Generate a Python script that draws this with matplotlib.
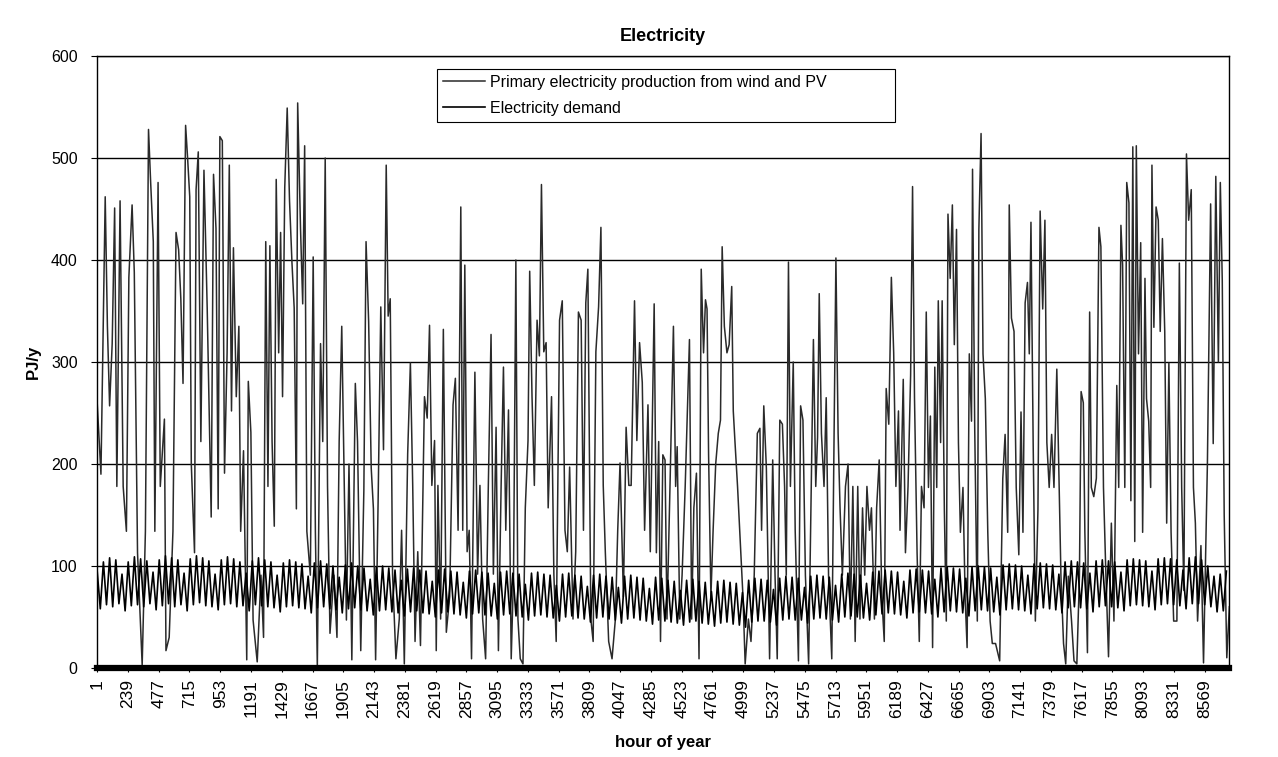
import numpy as np
import matplotlib
matplotlib.use("Agg")
import matplotlib.pyplot as plt

plt.rcParams['font.family'] = ['Liberation Sans', 'DejaVu Sans']

# ---- data (PJ/y) ----
# wind + PV production: (hour of year, value) at the visible peaks / dips
prod_hours = [
    1, 30, 63, 80, 97, 117, 136, 153, 178, 202, 227, 246, 271, 288, 313, 349, 374, 398, 415, 435,
    447, 472, 489, 521, 533, 558, 587, 611, 631, 648, 665, 685, 700, 717, 729, 754, 766, 783, 803, 827,
    852, 883, 901, 920, 937, 950, 969, 986, 1006, 1023, 1040, 1055, 1077, 1097, 1111, 1133, 1158, 1170, 1190, 1207,
    1239, 1268, 1288, 1305, 1322, 1337, 1354, 1371, 1386, 1405, 1420, 1435, 1452, 1471, 1489, 1508, 1525, 1542, 1552, 1574,
    1591, 1606, 1623, 1650, 1672, 1689, 1704, 1729, 1746, 1765, 1783, 1802, 1832, 1856, 1873, 1893, 1910, 1929, 1949, 1971,
    1998, 2015, 2040, 2064, 2081, 2101, 2121, 2138, 2155, 2175,
    2195, 2216, 2237, 2252, 2268, 2286, 2312, 2338, 2356, 2377, 2403, 2424, 2442, 2460, 2481, 2502, 2533, 2554, 2572, 2590,
    2611, 2624, 2637, 2658, 2679, 2702, 2728, 2754, 2772, 2793, 2814, 2829, 2845, 2863, 2879, 2897, 2923, 2944, 2962, 2983,
    3006, 3027, 3048, 3066, 3087, 3105, 3126, 3144, 3162, 3183, 3204, 3222, 3240, 3256, 3274, 3295, 3313, 3334, 3347, 3365,
    3383, 3404, 3422, 3438, 3456, 3474, 3490, 3516, 3534, 3552, 3578, 3599, 3620, 3638, 3656, 3682, 3703, 3724, 3745, 3763,
    3781, 3797, 3820, 3838, 3859, 3880, 3898, 3916, 3932, 3958, 3984, 4010, 4028, 4046, 4072, 4093, 4114, 4132, 4158, 4176,
    4197, 4218, 4236, 4262, 4280,
    4295, 4310, 4327, 4345, 4359, 4377, 4394, 4409, 4434, 4459, 4476, 4488, 4508, 4526, 4550, 4583, 4600, 4617, 4637, 4657,
    4674, 4692, 4707, 4719, 4731, 4749, 4766, 4786, 4806, 4823, 4836, 4853, 4873, 4890, 4910, 4922, 4935, 4955, 4972, 4997,
    5014, 5039, 5059, 5084, 5108, 5128, 5141, 5158, 5178, 5203, 5227, 5245, 5262, 5282, 5302, 5319, 5332, 5349, 5364, 5386,
    5401, 5426, 5443, 5461, 5480, 5505, 5530, 5542, 5560, 5574, 5587, 5604, 5624, 5641, 5659, 5684, 5704, 5716, 5733, 5748,
    5766, 5790, 5810, 5828, 5847, 5865, 5885, 5902, 5922, 5939, 5956, 5976, 5991, 6014, 6031, 6051, 6071, 6090, 6105, 6125,
    6145, 6163, 6180, 6200, 6212, 6237, 6254, 6274, 6294, 6309, 6324, 6344, 6361, 6378, 6398,
    6415, 6432, 6447, 6464, 6481, 6496, 6508, 6526, 6538, 6555, 6570, 6583, 6600, 6617, 6632, 6649, 6664, 6679, 6699, 6716,
    6731, 6748, 6765, 6773, 6790, 6810, 6822, 6839, 6854, 6872, 6891, 6909, 6926, 6951, 6983, 7007, 7025, 7045, 7057, 7074,
    7094, 7111, 7131, 7148, 7163, 7180, 7198, 7212, 7225, 7242, 7259, 7279, 7296, 7316, 7333, 7348, 7366, 7385, 7403, 7425,
    7440, 7457, 7477, 7494, 7514, 7539, 7558, 7580, 7600, 7613, 7630, 7642, 7662, 7679, 7692, 7711, 7731, 7751, 7766, 7786,
    7805, 7825, 7847, 7867, 7889, 7904, 7921, 7934, 7951, 7966, 7983, 7998, 8013, 8028, 8040, 8057, 8074, 8089, 8107, 8119,
    8136, 8151, 8161, 8176, 8193, 8210, 8225, 8242, 8260, 8275, 8292, 8309, 8329, 8354, 8373, 8391, 8408, 8428, 8445, 8465,
    8482, 8497, 8514, 8540, 8560, 8590, 8615, 8635, 8655, 8675, 8690, 8705, 8720, 8740, 8760,
]
prod_values = [
    260, 190, 462, 335, 257, 318, 451, 178, 458, 178, 134, 383, 454, 388, 113, 3, 134, 528, 475, 418,
    134, 476, 178, 244, 17, 30, 134, 427, 410, 362, 279, 532, 501, 462, 200, 113, 469, 506, 222, 488,
    353, 148, 484, 431, 156, 521, 517, 191, 309, 493, 252, 412, 266, 335, 134, 213, 8, 281, 231, 47,
    6, 91, 30, 418, 178, 414, 222, 139, 479, 309, 427, 266, 471, 549, 458, 397, 353, 156, 554, 431,
    357, 512, 134, 91, 403, 134, 1, 318, 222, 500, 178, 34, 91, 30, 222, 335, 200, 47, 200, 8,
    279, 222, 17, 174, 418, 340, 196, 156, 8, 169,
    354, 214, 493, 345, 362, 92, 9, 48, 135, 4, 210, 299, 179, 26, 114, 22, 266, 245, 336, 179,
    223, 17, 179, 48, 332, 35, 70, 258, 284, 135, 452, 135, 395, 114, 135, 9, 290, 92, 179, 48,
    9, 179, 327, 92, 236, 17, 179, 295, 135, 253, 9, 92, 400, 48, 9, 4, 157, 223, 389, 266,
    179, 341, 306, 474, 310, 319, 157, 266, 92, 26, 341, 360, 135, 114, 197, 48, 114, 349, 341, 135,
    358, 391, 48, 26, 310, 354, 432, 179, 114, 26, 9, 48, 135, 201, 70, 236, 179, 179, 360, 223,
    319, 280, 135, 258, 114,
    235, 357, 113, 222, 26, 209, 204, 48, 187, 335, 178, 217, 48, 91, 178, 322, 48, 157, 191, 9,
    391, 309, 361, 352, 209, 70, 135, 200, 230, 243, 413, 335, 309, 317, 374, 252, 222, 178, 135, 70,
    4, 48, 26, 91, 230, 235, 135, 257, 196, 9, 204, 91, 9, 243, 239, 178, 91, 398, 178, 300,
    135, 7, 257, 243, 91, 4, 222, 322, 178, 226, 367, 230, 178, 265, 91, 9, 252, 402, 230, 157,
    91, 178, 200, 48, 178, 26, 178, 48, 157, 91, 178, 135, 157, 48, 157, 204, 70, 26, 274, 239,
    383, 309, 178, 252, 135, 283, 113, 178, 287, 472, 265, 113, 26, 178, 157,
    349, 177, 247, 20, 295, 177, 360, 221, 360, 155, 46, 445, 382, 454, 317, 430, 221, 133, 177, 68,
    20, 308, 242, 489, 234, 46, 430, 524, 308, 264, 133, 46, 24, 24, 7, 186, 229, 133, 454, 343,
    330, 177, 111, 251, 133, 358, 378, 308, 437, 221, 46, 155, 448, 352, 439, 221, 177, 229, 177, 293,
    199, 90, 24, 4, 90, 46, 7, 4, 90, 271, 260, 133, 15, 349, 177, 168, 186, 432, 413, 177,
    90, 11, 142, 46, 277, 177, 434, 395, 177, 476, 456, 164, 511, 124, 512, 308, 417, 133, 382, 264,
    242, 177, 493, 334, 452, 439, 330, 421, 330, 142, 299, 133, 46, 46, 397, 177, 76, 504, 439, 469,
    177, 142, 46, 120, 5, 200, 455, 220, 482, 300, 476, 380, 150, 10, 60,
]

# electricity demand: one reading per day, alternating daily high / low
demand_values = [
    95, 58, 104, 62, 108, 60, 106, 63, 92, 56, 104, 61, 109, 62,
    107, 60, 105, 63, 94, 57, 106, 61, 110, 63, 108, 60, 106, 62,
    93, 56, 107, 62, 110, 64, 108, 61, 105, 60, 92, 57, 106, 62,
    109, 63, 107, 60, 104, 61, 93, 56, 105, 62, 108, 61, 106, 60,
    104, 59, 91, 55, 103, 60, 106, 61, 104, 59, 102, 58, 90, 54,
    103, 59, 105, 60, 102, 58, 100, 57, 89, 54, 101, 58, 103, 59,
    100, 57, 98, 56, 87, 52, 99, 56, 100, 57, 98, 55, 96, 54,
    86, 51, 97, 55, 98, 56, 96, 54, 95, 53, 85, 50, 96, 54,
    97, 55, 95, 53, 94, 52, 84, 49, 95, 53, 96, 54, 94, 52,
    93, 51, 83, 48, 94, 52, 95, 53, 93, 51, 92, 50, 82, 47,
    93, 51, 94, 52, 92, 50, 91, 49, 81, 46, 92, 50, 93, 51,
    91, 49, 90, 48, 80, 45, 91, 49, 92, 50, 90, 48, 89, 47,
    79, 44, 90, 48, 91, 49, 89, 47, 88, 46, 78, 43, 89, 47,
    88, 46, 86, 45, 85, 44, 76, 42, 86, 45, 87, 46, 85, 44,
    84, 43, 75, 41, 85, 44, 86, 45, 84, 43, 83, 42, 74, 40,
    86, 45, 88, 46, 87, 46, 86, 45, 77, 42, 88, 47, 90, 48,
    89, 47, 88, 47, 79, 44, 90, 48, 91, 49, 90, 48, 89, 47,
    81, 45, 92, 50, 93, 51, 92, 50, 91, 49, 83, 47, 94, 52,
    95, 53, 96, 54, 95, 53, 94, 52, 85, 49, 96, 54, 97, 55,
    96, 54, 95, 53, 87, 50, 98, 55, 99, 56, 98, 55, 97, 54,
    88, 51, 99, 56, 100, 57, 99, 56, 98, 55, 89, 52, 101, 57,
    102, 58, 101, 57, 100, 56, 91, 53, 102, 58, 103, 59, 102, 58,
    101, 57, 92, 54, 104, 59, 105, 60, 104, 59, 103, 58, 93, 55,
    105, 60, 106, 61, 105, 60, 104, 59, 94, 56, 106, 61, 107, 62,
    106, 61, 105, 60, 95, 57, 107, 62, 108, 63, 107, 62, 106, 61,
    96, 58, 108, 63, 109, 63, 106, 62, 100, 60, 90, 55, 92, 56,
    95,
]
demand_hours = 1 + 24 * np.arange(len(demand_values))

x_tick_hours = list(range(1, 8761, 238))
y_ticks = [0, 100, 200, 300, 400, 500, 600]

labels = ["Primary electricity production from wind and PV", "Electricity demand"]

fig = plt.figure(figsize=(12.78, 7.57), dpi=100)
ax = fig.add_axes([0.076, 0.1176, 0.886, 0.8084])

ax.plot(prod_hours, prod_values, color="#2a2a2a", lw=1.1, label=labels[0])
ax.plot(demand_hours, demand_values, color="black", lw=1.2, label=labels[1])

ax.set_xlim(0.5, 8760.5)
ax.set_ylim(0, 600)
ax.set_yticks(y_ticks)
ax.set_xticks(x_tick_hours)
ax.set_xticklabels([str(h) for h in x_tick_hours], rotation=90)
ax.tick_params(axis="y", labelsize=11.5, length=4, pad=10, color="black")
ax.tick_params(axis="x", labelsize=12.5, length=3, pad=5, color="black")
ax.yaxis.grid(True, color="black", lw=1)
ax.set_axisbelow(True)
for s in ax.spines.values():
    s.set_color("black"); s.set_linewidth(1)
ax.spines["bottom"].set_linewidth(4.5)

ax.set_title("Electricity", fontsize=13, fontweight="bold", pad=11)
ax.set_xlabel("hour of year", fontsize=12, fontweight="bold", labelpad=12)
ax.set_ylabel("PJ/y", fontsize=12, fontweight="bold", labelpad=7)

leg = ax.legend(loc="center", bbox_to_anchor=(0.30, 0.889, 0.405, 0.093), mode="expand",
                fontsize=11.5, frameon=True, fancybox=False, framealpha=1,
                edgecolor="black", handlelength=2.6, handletextpad=0.3,
                labelspacing=0.7, borderaxespad=0)
leg.get_frame().set_linewidth(0.8)

plt.savefig("out.png", dpi=100)
